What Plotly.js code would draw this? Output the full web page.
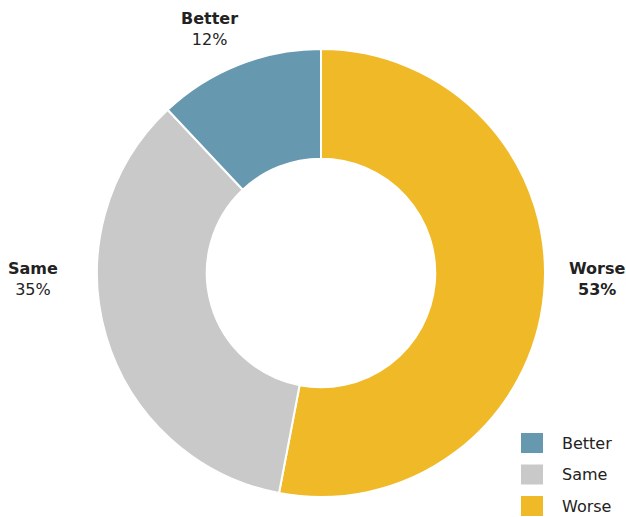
<!DOCTYPE html>
<html><head><meta charset="utf-8">
<script src="https://cdn.plot.ly/plotly-3.0.1.min.js"></script>
<style>html,body{margin:0;padding:0;background:#fff}</style>
</head><body><div id="chart" style="width:626px;height:517px"></div>
<script>
const categories = ["Better", "Same", "Worse"];
const values = [12, 35, 53];
const colors = ["#6698b0", "#c9c9c9", "#f0b928"];

const W = 626, H = 517;
const font = "'DejaVu Sans', sans-serif";

// label placements (px) for outside labels
const labelPos = [[209, 29], [33, 279], [597, 279]];
const valueBold = [false, false, true];

const annotations = [];
const shapes = [];
categories.forEach((c, i) => {
  const pct = values[i] + "%";
  const txt = "<b>" + c + "</b><br>" + (valueBold[i] ? "<b>" + pct + "</b>" : pct);
  annotations.push({
    xref: "paper", yref: "paper",
    x: labelPos[i][0] / W, y: 1 - labelPos[i][1] / H,
    text: txt, showarrow: false, xanchor: "center", yanchor: "middle",
    font: {family: font, size: 16, color: "#222"}, align: "center"
  });
  // legend
  const top = 433 + i * 31.5;
  shapes.push({
    type: "rect", xref: "paper", yref: "paper",
    x0: 521 / W, x1: 543 / W, y0: 1 - top / H, y1: 1 - (top + 20) / H,
    fillcolor: colors[i], line: {width: 0}
  });
  annotations.push({
    xref: "paper", yref: "paper",
    x: 560 / W, y: 1 - (top + 10) / H,
    text: c, showarrow: false, xanchor: "left", yanchor: "middle",
    font: {family: font, size: 16, color: "#222"}
  });
});

// pie drawn clockwise from 12 o'clock: Worse, Same, Better
const rev = a => a.slice().reverse();

const data = [{
  type: "pie",
  labels: rev(categories),
  values: rev(values),
  marker: {colors: rev(colors), line: {color: "#ffffff", width: 2}},
  hole: 0.51,
  sort: false,
  direction: "clockwise",
  rotation: 0,
  textinfo: "none",
  showlegend: false,
  domain: {x: [97 / W, 545 / W], y: [20 / H, 468 / H]}
}];

const layout = {
  width: W, height: H,
  margin: {l: 0, r: 0, t: 0, b: 0},
  paper_bgcolor: "#fff",
  showlegend: false,
  annotations: annotations,
  shapes: shapes
};

Plotly.newPlot("chart", data, layout, {displayModeBar: false, staticPlot: true});
</script></body></html>
